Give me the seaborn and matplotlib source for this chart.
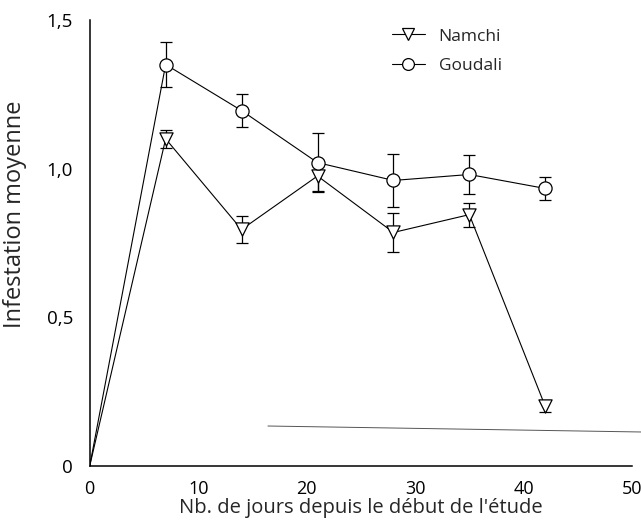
import numpy as np
import pandas as pd
import seaborn as sns
import matplotlib
matplotlib.use("Agg")
import matplotlib.pyplot as plt
from matplotlib.lines import Line2D
from matplotlib.ticker import FixedLocator, FuncFormatter

# Mean infestation per breed over the study period
days = [0, 7, 14, 21, 28, 35, 42]
namchi = [0.0, 1.10, 0.795, 0.975, 0.785, 0.845, 0.20]
namchi_err = [0.0, 0.03, 0.045, 0.05, 0.065, 0.04, 0.02]
goudali = [0.0, 1.35, 1.195, 1.02, 0.96, 0.98, 0.933]
goudali_err = [0.0, 0.075, 0.055, 0.10, 0.09, 0.067, 0.04]
breeds = ["Namchi", "Goudali"]
markers = {"Namchi": "v", "Goudali": "o"}

xticks = [0, 10, 20, 30, 40, 50]
yticks = [0, 0.5, 1.0, 1.5]

sns.set_style("white")
plt.rcParams["font.family"] = ["Open Sans", "DejaVu Sans"]

df = pd.DataFrame({
    "day": days * 2,
    "value": namchi + goudali,
    "err": namchi_err + goudali_err,
    "breed": ["Namchi"] * len(days) + ["Goudali"] * len(days),
})

fig = plt.figure(figsize=(6.41, 5.24), dpi=100)
ax = fig.add_axes([0.140, 0.111, 0.846, 0.851])

# connecting lines (including the origin)
sns.lineplot(data=df, x="day", y="value", hue="breed", palette=["black", "black"],
             linewidth=0.8, legend=False, ax=ax, sort=False, zorder=2)

# error bars and markers for the sampling days
meas = df[df["day"] > 0]
for b in breeds:
    sub = meas[meas["breed"] == b]
    ax.errorbar(sub["day"], sub["value"], yerr=sub["err"], fmt="none",
                ecolor="black", elinewidth=0.9, capsize=4, capthick=0.9, zorder=1)
    sns.scatterplot(x=sub["day"], y=sub["value"], marker=markers[b], s=90,
                    facecolor="white", edgecolor="black", linewidth=0.9,
                    ax=ax, zorder=3, legend=False)

ax.set_xlim(0, 50)
ax.set_ylim(0, 1.5)
ax.xaxis.set_major_locator(FixedLocator(xticks))
ax.yaxis.set_major_locator(FixedLocator(yticks))
ax.yaxis.set_major_formatter(FuncFormatter(
    lambda v, p: "0" if v == 0 else f"{v:.1f}".replace(".", ",")))
ax.xaxis.set_major_formatter(FuncFormatter(lambda v, p: f"{v:.0f}"))
ax.tick_params(axis="both", direction="in", length=7, width=1.0, colors="black")
ax.tick_params(axis="y", pad=12, labelsize=13.5)
ax.tick_params(axis="x", pad=10, labelsize=13)

sns.despine(ax=ax)
for s in ("left", "bottom"):
    ax.spines[s].set_linewidth(1.1)
    ax.spines[s].set_color("black")

ax.set_xlabel("Nb. de jours depuis le début de l'étude", fontsize=14.5, labelpad=0)
ax.set_ylabel("Infestation moyenne", fontsize=17)
ax.yaxis.set_label_coords(-0.115, 0.565)

handles = [Line2D([], [], color="black", lw=0.8, marker=markers[b], ms=8.5,
                  mfc="white", mec="black", mew=0.9) for b in breeds]
ax.legend(handles, breeds, frameon=False, fontsize=12.5, handlelength=1.9,
          handletextpad=0.8, labelspacing=0.75, loc="upper left",
          bbox_to_anchor=(0.528, 1.016))

# thin rule across the lower plot area
fig.add_artist(Line2D([0.418, 1.0], [0.187, 0.1756], transform=fig.transFigure,
                      color="#555555", lw=0.7))

fig.savefig("out.png", dpi=100, facecolor="white")
